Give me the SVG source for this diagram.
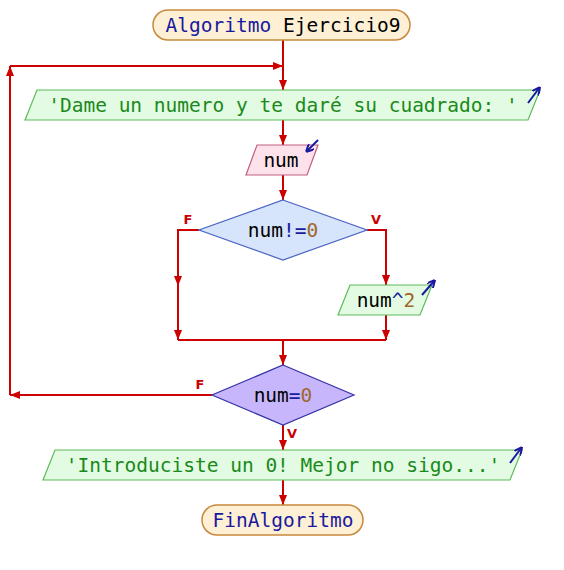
<svg xmlns="http://www.w3.org/2000/svg" width="564" height="570" viewBox="0 0 564 570">
<style>
text{font-family:"DejaVu Sans Mono","Liberation Mono",monospace;font-size:19.5px;text-anchor:middle}
.kw{fill:#1a1aa0}
.str{fill:#1a8a1a}
.blk{fill:#000}
.op{fill:#1a1aa0}
.num{fill:#a0662a}
.term{fill:#fdf0d4;stroke:#c8883c;stroke-width:1.5}
.out{fill:#e2fbe2;stroke:#5cbc5c;stroke-width:1.2}
.inp{fill:#fde2ec;stroke:#c0607e;stroke-width:1.2}
.d1{fill:#d6e4fc;stroke:#4a64c4;stroke-width:1.2}
.d2{fill:#c8b6fc;stroke:#3434a4;stroke-width:1.2}
.ln{fill:none;stroke:#cc0000;stroke-width:2}
.lbl{fill:#cc0000;font-size:13px;font-weight:bold;font-family:"DejaVu Sans","Liberation Sans",sans-serif}
.io{fill:none;stroke:#1a1aa0;stroke-width:2}
</style>
<defs>
<marker id="ah" viewBox="0 0 10 8" refX="10" refY="4" markerWidth="10" markerHeight="8" markerUnits="userSpaceOnUse" orient="auto">
<path d="M0,0 L10,4 L0,8 Z" fill="#cc0000"/>
</marker>
<marker id="ab" viewBox="0 0 8 8" refX="8" refY="4" markerWidth="8" markerHeight="8" markerUnits="userSpaceOnUse" orient="auto">
<path d="M0,0 L8,4 L0,8" fill="none" stroke="#1a1aa0" stroke-width="2"/>
</marker>
</defs>
<g id="connectors">
<path class="ln" d="M283,40 V90" marker-end="url(#ah)"/>
<path class="ln" d="M10,66 H283" marker-end="url(#ah)"/>
<path class="ln" d="M283,120 V145" marker-end="url(#ah)"/>
<path class="ln" d="M283,175 V200" marker-end="url(#ah)"/>
<path class="ln" d="M199,230 H178 V286" marker-end="url(#ah)"/>
<path class="ln" d="M178,284 V340" marker-end="url(#ah)"/>
<path class="ln" d="M367,230 H386 V285" marker-end="url(#ah)"/>
<path class="ln" d="M386,315 V340" marker-end="url(#ah)"/>
<path class="ln" d="M178,340 H386"/>
<path class="ln" d="M283,340 V365" marker-end="url(#ah)"/>
<path class="ln" d="M212,395 H10" marker-end="url(#ah)"/>
<path class="ln" d="M10,395 V66" marker-end="url(#ah)"/>
<path class="ln" d="M283,425 V450" marker-end="url(#ah)"/>
<path class="ln" d="M283,480 V505" marker-end="url(#ah)"/>
<text class="lbl" x="188" y="224">F</text>
<text class="lbl" x="376" y="224">V</text>
<text class="lbl" x="200" y="389">F</text>
<text class="lbl" x="292" y="438">V</text>
</g>
<g id="start">
<rect class="term" x="153" y="10" width="257" height="30" rx="15"/>
<text x="283" y="32"><tspan class="kw">Algoritmo</tspan><tspan class="blk"> Ejercicio9</tspan></text>
</g>
<g id="out1">
<polygon class="out" points="37,90 540,90 528,120 25,120"/>
<text class="str" x="283" y="112">'Dame un numero y te daré su cuadrado: '</text>
<path class="io" d="M528,103 L540,87" marker-end="url(#ab)"/>
</g>
<g id="in1">
<polygon class="inp" points="257,145 318,145 307,175 246,175"/>
<text class="blk" x="281" y="167">num</text>
<path class="io" d="M318,140 L306,152" marker-end="url(#ab)"/>
</g>
<g id="cond1">
<polygon class="d1" points="283,200 367,230 283,260 199,230"/>
<text x="283" y="237"><tspan class="blk">num</tspan><tspan class="op">!=</tspan><tspan class="num">0</tspan></text>
</g>
<g id="out2">
<polygon class="out" points="350,285 432,285 420,315 338,315"/>
<text x="386" y="307"><tspan class="blk">num</tspan><tspan class="op">^</tspan><tspan class="num">2</tspan></text>
<path class="io" d="M422,295 L435,280" marker-end="url(#ab)"/>
</g>
<g id="cond2">
<polygon class="d2" points="283,365 354,395 283,425 212,395"/>
<text x="283" y="402"><tspan class="blk">num</tspan><tspan class="op">=</tspan><tspan class="num">0</tspan></text>
</g>
<g id="out3">
<polygon class="out" points="55,450 522,450 510,480 43,480"/>
<text class="str" x="283" y="472">'Introduciste un 0! Mejor no sigo...'</text>
<path class="io" d="M510,463 L522,447" marker-end="url(#ab)"/>
</g>
<g id="end">
<rect class="term" x="202" y="505" width="161" height="30" rx="15"/>
<text class="kw" x="283" y="527">FinAlgoritmo</text>
</g>
</svg>
